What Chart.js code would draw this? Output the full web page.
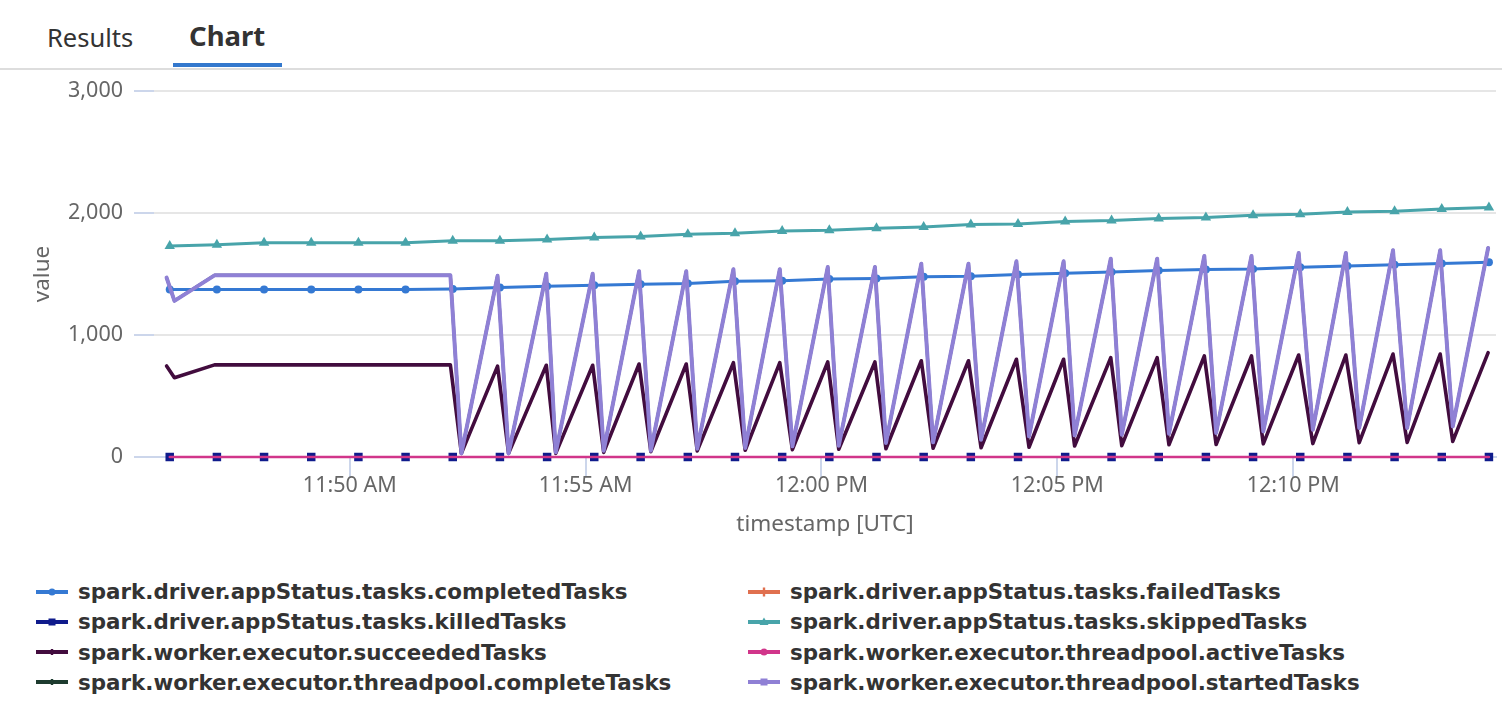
<!DOCTYPE html>
<html>
<head>
<meta charset="utf-8">
<script src="https://cdn.jsdelivr.net/npm/chart.js@4.4.1/dist/chart.umd.min.js"></script>
<style>
  html, body { margin: 0; padding: 0; background: #fff; width: 1502px; height: 708px; overflow: hidden; }
  .tab { position: absolute; font-family: "Noto Sans", "DejaVu Sans", sans-serif; color: #333; line-height: 40px; white-space: nowrap; }
  #tabResults { left: 47px; top: 17px; font-size: 25.5px; }
  #tabChart { left: 189px; top: 16px; font-size: 27.5px; font-weight: bold; }
  #tabBar { position: absolute; left: 173px; top: 63px; width: 109px; height: 4px; background: #3378cd; }
  #sep { position: absolute; left: 0; top: 68px; width: 1502px; height: 2px; background: #dddddd; }
  #chartBox { position: absolute; left: 0; top: 70px; width: 1502px; height: 472px; }
  .li { position: absolute; display: flex; align-items: center; height: 30px; font-family: "DejaVu Sans", sans-serif; font-weight: bold; font-size: 21.4px; color: #333; white-space: nowrap; }
  .li svg { margin-right: 10px; flex: none; }
</style>
</head>
<body>
<div id="tabResults" class="tab">Results</div>
<div id="tabChart" class="tab">Chart</div>
<div id="tabBar"></div>
<div id="sep"></div>
<div id="chartBox"><canvas id="c" width="1502" height="472"></canvas></div>
<div id="legend"></div>
<script>
// ---------- data ----------
const seriesNames = [
  "spark.driver.appStatus.tasks.completedTasks",
  "spark.driver.appStatus.tasks.failedTasks",
  "spark.driver.appStatus.tasks.killedTasks",
  "spark.driver.appStatus.tasks.skippedTasks",
  "spark.worker.executor.succeededTasks",
  "spark.worker.executor.threadpool.activeTasks",
  "spark.worker.executor.threadpool.completeTasks",
  "spark.worker.executor.threadpool.startedTasks"
];

// sampling times of the once-a-minute driver series
const minuteTimes = [
  "11:46:11","11:47:11","11:48:11","11:49:11","11:50:11","11:51:11","11:52:11","11:53:11","11:54:11","11:55:11",
  "11:56:10","11:57:10","11:58:10","11:59:10","12:00:10","12:01:10","12:02:10","12:03:10","12:04:10","12:05:10",
  "12:06:09","12:07:09","12:08:09","12:09:09","12:10:09","12:11:09","12:12:09","12:13:09","12:14:09"
];
const completedTasks = [1372,1372,1372,1372,1372,1372,1378,1390,1400,1407,1415,1423,1440,1445,1458,1464,1477,1481,1496,1507,1516,1529,1537,1541,1555,1566,1576,1587,1597];
const failedTasks    = [0,0,0,0,0,0,0,0,0,0,0,0,0,0,0,0,0,0,0,0,0,0,0,0,0,0,0,0,0];
const killedTasks    = [0,0,0,0,0,0,0,0,0,0,0,0,0,0,0,0,0,0,0,0,0,0,0,0,0,0,0,0,0];
const skippedTasks   = [1730,1740,1757,1757,1757,1757,1773,1773,1782,1799,1807,1826,1834,1853,1859,1875,1886,1905,1910,1930,1938,1955,1963,1982,1990,2009,2014,2033,2045];
const activeTasks    = [0,0,0,0,0,0,0,0,0,0,0,0,0,0,0,0,0,0,0,0,0,0,0,0,0,0,0,0,0];

// sampling times of the worker series (two samples per minute)
const workerTimes = [
  "11:46:07","11:46:17","11:47:08","11:47:22","11:48:08","11:48:22","11:49:08","11:49:22","11:50:08","11:50:22",
  "11:51:08","11:51:22","11:52:08","11:52:22","11:53:08","11:53:22","11:54:10","11:54:22","11:55:09","11:55:23",
  "11:56:08","11:56:23","11:57:08","11:57:22","11:58:08","11:58:23","11:59:07","11:59:23","12:00:08","12:00:22",
  "12:01:08","12:01:22","12:02:07","12:02:22","12:03:07","12:03:23","12:04:08","12:04:24","12:05:08","12:05:22",
  "12:06:08","12:06:22","12:07:07","12:07:22","12:08:07","12:08:22","12:09:07","12:09:22","12:10:07","12:10:25",
  "12:11:07","12:11:24","12:12:07","12:12:25","12:13:07","12:13:23","12:14:08"
];
const succeededTasks = [
  746,650, 755,755, 755,755, 755,755, 755,755, 755,755, 755,30, 745,30, 752,30, 752,38,
  762,44, 762,50, 773,55, 773,60, 779,64, 779,68, 789,72, 789,76, 801,80, 801,90,
  814,93, 814,100, 828,102, 828,108, 836,110, 836,118, 844,120, 844,128, 855
];
const completeTasks = [
  1470,1280, 1489,1489, 1489,1489, 1489,1489, 1489,1489, 1489,1489, 1489,30, 1485,30, 1502,39, 1502,52,
  1522,52, 1522,68, 1539,74, 1539,88, 1557,93, 1557,115, 1584,120, 1584,142, 1604,170, 1604,178,
  1625,183, 1625,191, 1648,197, 1648,211, 1672,224, 1672,238, 1694,238, 1694,252, 1713
];
const startedTasks = [
  1470,1280, 1489,1489, 1489,1489, 1489,1489, 1489,1489, 1489,1489, 1489,30, 1485,30, 1502,39, 1502,52,
  1522,52, 1522,68, 1539,74, 1539,88, 1557,93, 1557,115, 1584,120, 1584,142, 1604,170, 1604,178,
  1625,183, 1625,191, 1648,197, 1648,211, 1672,224, 1672,238, 1694,238, 1694,252, 1713
];

const xRange = ["11:45:51", "12:14:18"];
const xTickTimes  = ["11:50:00", "11:55:00", "12:00:00", "12:05:00", "12:10:00"];
const xTickLabels = ["11:50 AM", "11:55 AM", "12:00 PM", "12:05 PM", "12:10 PM"];
const yTickValues = [0, 1000, 2000, 3000];

// ---------- styling ----------
const colors = ["#3579d3", "#e0704f", "#0f1b8c", "#48a4aa", "#420c3e", "#d1358a", "#1d3b2f", "#8f80d5"];
const lineWidths = [3, 2, 2, 3, 3.6, 2.5, 3, 4];
const pointStyles = ["circle", "circle", "rect", "triangle", "circle", "circle", "circle", "circle"];
const pointRadii = [4, 0, 6, 6, 0, 0, 0, 0];
const legendMarkers = ["circle", "vbar", "square", "triangle", "tick", "circle", "tick", "square"];

const toSec = s => { const p = s.split(":").map(Number); return p[0] * 3600 + p[1] * 60 + (p[2] || 0); };
const pts = (times, vals) => vals.map((v, i) => ({ x: toSec(times[i]), y: v }));

const seriesData = [
  pts(minuteTimes, completedTasks),
  pts(minuteTimes, failedTasks),
  pts(minuteTimes, killedTasks),
  pts(minuteTimes, skippedTasks),
  pts(workerTimes, succeededTasks),
  pts(minuteTimes, activeTasks),
  pts(workerTimes, completeTasks),
  pts(workerTimes, startedTasks)
];

const N = seriesNames.length;
const datasets = seriesNames.map((name, i) => ({
  label: name,
  data: seriesData[i],
  borderColor: colors[i],
  backgroundColor: colors[i],
  pointBackgroundColor: colors[i],
  pointBorderColor: colors[i],
  pointBorderWidth: 0,
  borderWidth: lineWidths[i],
  pointStyle: pointStyles[i],
  pointRadius: pointRadii[i],
  pointHoverRadius: pointRadii[i],
  order: N - 1 - i,
  clip: false
}));

const tickFont = { family: '"Noto Sans", "DejaVu Sans", sans-serif', size: 21.5 };
const titleFont = { family: '"Noto Sans", "DejaVu Sans", sans-serif', size: 22.5 };

const chart = new Chart(document.getElementById("c"), {
  type: "line",
  data: { datasets },
  options: {
    responsive: false,
    animation: false,
    layout: { padding: { top: 21, right: 0, bottom: 0, left: 0 } },
    plugins: { legend: { display: false }, tooltip: { enabled: false } },
    elements: { line: { tension: 0, borderJoinStyle: "round", borderCapStyle: "round" } },
    scales: {
      x: {
        type: "linear",
        min: toSec(xRange[0]),
        max: toSec(xRange[1]),
        afterBuildTicks: s => { s.ticks = xTickTimes.map(t => ({ value: toSec(t) })); },
        afterFit: s => { s.height = 85; s.paddingLeft = 0; s.paddingRight = 0; },
        ticks: {
          autoSkip: false, maxRotation: 0, padding: -4, color: "#666", font: tickFont,
          callback: (v, i) => xTickLabels[i]
        },
        grid: { drawOnChartArea: false, drawTicks: true, tickLength: 20, tickColor: "#ccd6eb", lineWidth: 2 },
        border: { display: true, color: "#ccd6eb", width: 2 },
        title: { display: true, text: "timestamp [UTC]", color: "#666", font: titleFont, padding: { top: 12, bottom: 4 } }
      },
      y: {
        min: yTickValues[0],
        max: yTickValues[yTickValues.length - 1],
        afterBuildTicks: s => { s.ticks = yTickValues.map(v => ({ value: v })); },
        afterFit: s => { s.width = 154; s.paddingTop = 0; s.paddingBottom = 0; },
        ticks: { padding: 11, color: "#666", font: tickFont, callback: v => Number(v).toLocaleString("en-US") },
        grid: { color: "#e6e6e6", lineWidth: 2, tickLength: 20, tickColor: "#ccd6eb" },
        border: { display: false },
        title: { display: true, text: "value", color: "#666", font: titleFont, padding: { top: 29, bottom: 0 } }
      }
    }
  }
});

// ---------- HTML legend (two columns, built from the chart's datasets) ----------
function markerSvg(kind, color) {
  let m = "";
  if (kind === "circle") m = `<circle cx="16" cy="6" r="3.5" fill="${color}"/>`;
  else if (kind === "square") m = `<rect x="12.5" y="2.5" width="7" height="7" fill="${color}"/>`;
  else if (kind === "triangle") m = `<polygon points="16,1.5 20.5,9 11.5,9" fill="${color}"/>`;
  else if (kind === "vbar") m = `<rect x="14.8" y="1.5" width="2.4" height="9" fill="${color}"/>`;
  else if (kind === "tick") m = `<rect x="14.8" y="3" width="2.4" height="6" fill="${color}"/>`;
  return `<svg width="32" height="12" viewBox="0 0 32 12"><line x1="0" y1="6" x2="32" y2="6" stroke="${color}" stroke-width="4"/>${m}</svg>`;
}
const legendEl = document.getElementById("legend");
const colX = [36, 748];
const rowY = [591.7, 621.9, 652.1, 682.3];
chart.data.datasets.forEach((ds, i) => {
  const el = document.createElement("div");
  el.className = "li";
  el.style.left = colX[i % 2] + "px";
  el.style.top = (rowY[Math.floor(i / 2)] - 15) + "px";
  el.innerHTML = markerSvg(legendMarkers[i], ds.borderColor) + "<span></span>";
  el.querySelector("span").textContent = ds.label;
  legendEl.appendChild(el);
});
</script>
</body>
</html>
